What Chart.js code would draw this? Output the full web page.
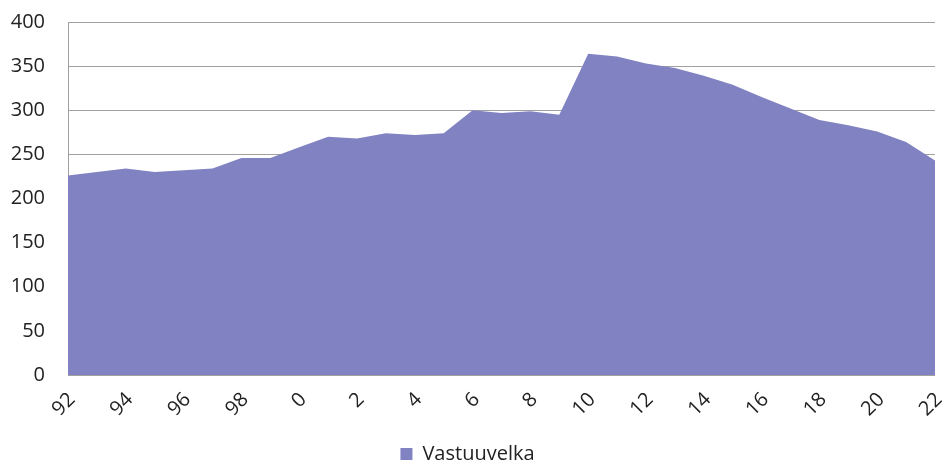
<!DOCTYPE html>
<html>
<head>
<meta charset="utf-8">
<script src="https://cdn.jsdelivr.net/npm/chart.js@4"></script>
<style>
  html, body { margin: 0; padding: 0; background: #fff; }
  #wrap { width: 942px; height: 468px; }
</style>
</head>
<body>
<div id="wrap"><canvas id="chart"></canvas></div>
<script>
// years 1992..2022, shown as two-digit labels
const years = ["92","93","94","95","96","97","98","99","0","1","2","3","4","5","6","7","8","9","10","11","12","13","14","15","16","17","18","19","20","21","22"];
const vastuuvelka = [226, 230, 234, 230, 232, 234, 246, 246, 258, 270, 268, 274, 272, 274, 300, 297, 299, 295, 364, 361, 353, 348, 339, 329, 315, 302, 289, 283, 276, 264, 243];
const yTicks = [0, 50, 100, 150, 200, 250, 300, 350, 400];

const font = { family: "'Open Sans', sans-serif", size: 20 };

new Chart(document.getElementById("chart"), {
  type: "line",
  data: {
    labels: years,
    datasets: [{
      label: "Vastuuvelka",
      data: vastuuvelka,
      fill: "origin",
      backgroundColor: "#8082c2",
      borderColor: "#8082c2",
      borderWidth: 0,
      pointRadius: 0,
      tension: 0
    }]
  },
  options: {
    responsive: true,
    maintainAspectRatio: false,
    animation: false,
    layout: { padding: { top: 22, right: 7, left: 0, bottom: -6 } },
    plugins: {
      tooltip: { enabled: false },
      legend: {
        position: "bottom",
        labels: {
          color: "#222",
          font: font,
          boxWidth: 12,
          boxHeight: 12,
          padding: 0
        }
      }
    },
    scales: {
      x: {
        offset: false,
        grid: { display: false, drawTicks: false },
        border: { display: false },
        ticks: {
          color: "#222",
          font: font,
          autoSkip: false,
          minRotation: 45,
          maxRotation: 45,
          labelOffset: 4,
          padding: 13,
          callback: function (v, i) { return i % 2 === 0 ? years[i] : ""; }
        },
        afterFit: function (scale) {
          scale.height = 69;
          scale.paddingLeft = 0;
          scale.paddingRight = 0;
        }
      },
      y: {
        min: 0,
        max: 400,
        afterBuildTicks: function (axis) { axis.ticks = yTicks.map(v => ({ value: v })); },
        grid: { color: "#a0a0a0", drawTicks: false },
        border: { display: true, color: "#a0a0a0" },
        ticks: { color: "#222", font: font, padding: 23 },
        afterFit: function (scale) {
          scale.width = 68;
          scale.paddingTop = 0;
          scale.paddingBottom = 0;
        }
      }
    }
  }
});
</script>
</body>
</html>
